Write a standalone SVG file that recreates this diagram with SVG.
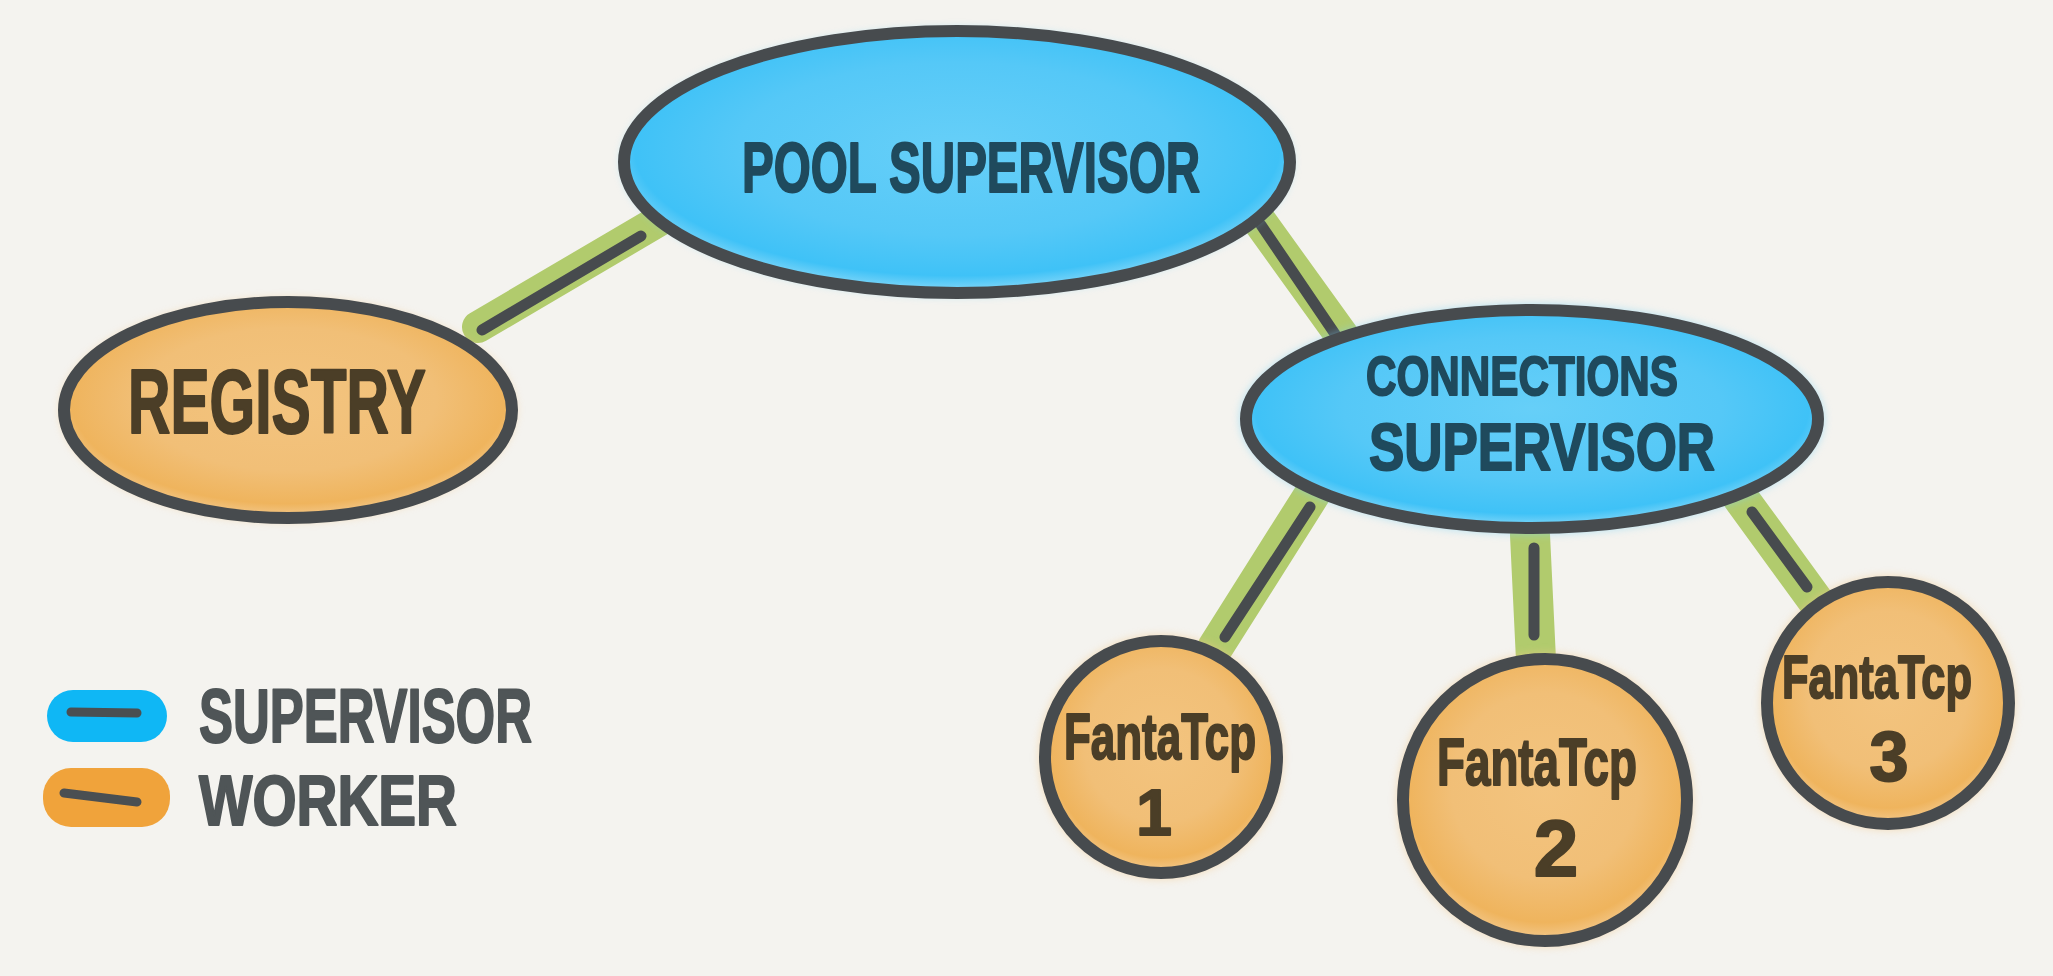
<svg xmlns="http://www.w3.org/2000/svg" width="2053" height="976" viewBox="0 0 2053 976">
  <defs>
    <radialGradient id="gBlue" cx="50%" cy="45%" r="55%">
      <stop offset="0" stop-color="#66cff8"/>
      <stop offset="0.6" stop-color="#55c8f7"/>
      <stop offset="0.88" stop-color="#3fc2f7"/>
      <stop offset="1" stop-color="#8ad9f8"/>
    </radialGradient>
    <radialGradient id="gOrange" cx="50%" cy="45%" r="55%">
      <stop offset="0" stop-color="#f3c47f"/>
      <stop offset="0.6" stop-color="#f1bf77"/>
      <stop offset="0.88" stop-color="#efb45d"/>
      <stop offset="1" stop-color="#f3c98e"/>
    </radialGradient>
    <filter id="bleed" x="-10%" y="-10%" width="120%" height="120%">
      <feGaussianBlur stdDeviation="4"/>
    </filter>
    <style>
      .bg { fill: #f4f3ef; }
      .node { stroke: #474b4e; stroke-width: 12; }
      .sup { fill: url(#gBlue); }
      .wrk { fill: url(#gOrange); }
      .bleedB { fill: #7fd3f5; opacity: 0.55; filter: url(#bleed); }
      .bleedO { fill: #f3c88a; opacity: 0.55; filter: url(#bleed); }
      .green { stroke: #b1cb6d; stroke-linecap: round; fill: none; }
      .dark { stroke: #474b4e; stroke-width: 11; stroke-linecap: round; fill: none; }
      text { font-family: "Liberation Sans", "DejaVu Sans", sans-serif; font-weight: bold; stroke-linejoin: round; }
      .tb { fill: #1f4a5d; stroke: #1f4a5d; stroke-width: 2; }
      .to { fill: #4b3e27; stroke: #4b3e27; stroke-width: 2; }
      .tl { fill: #4f5557; stroke: #4f5557; stroke-width: 2; }
    </style>
  </defs>

  <rect class="bg" x="0" y="0" width="2053" height="976"/>

  <g id="connectors">
    <line class="green" stroke-width="32" x1="478" y1="327" x2="660" y2="220"/>
    <line class="dark" x1="482" y1="330" x2="641" y2="236"/>

    <line class="green" stroke-width="34" x1="1255" y1="215" x2="1345" y2="340"/>
    <line class="dark" x1="1261" y1="225" x2="1335" y2="334"/>

    <line class="green" stroke-width="36" x1="1318" y1="485" x2="1215" y2="648"/>
    <line class="dark" x1="1310" y1="507" x2="1225" y2="637"/>

    <line class="green" stroke-width="40" x1="1530" y1="535" x2="1536" y2="660"/>
    <line class="dark" x1="1534" y1="548" x2="1534" y2="635"/>

    <line class="green" stroke-width="36" x1="1740" y1="497" x2="1815" y2="600"/>
    <line class="dark" x1="1752" y1="512" x2="1807" y2="587"/>
  </g>

  <g id="pool-supervisor">
    <ellipse class="bleedB" cx="957" cy="162" rx="336" ry="134"/>
    <ellipse class="node sup" cx="957" cy="162" rx="333" ry="131"/>
    <text class="tb" x="742" y="192" font-size="70" textLength="458" lengthAdjust="spacingAndGlyphs">POOL SUPERVISOR</text>
  </g>

  <g id="registry">
    <ellipse class="bleedO" cx="288" cy="410" rx="228" ry="112"/>
    <ellipse class="node wrk" cx="288" cy="410" rx="224" ry="108"/>
    <text class="to" x="128" y="433" font-size="90" textLength="298" lengthAdjust="spacingAndGlyphs">REGISTRY</text>
  </g>

  <g id="connections-supervisor">
    <ellipse class="bleedB" cx="1532" cy="419" rx="292" ry="115"/>
    <ellipse class="node sup" cx="1532" cy="419" rx="286" ry="109"/>
    <text class="tb" x="1366" y="395" font-size="56" textLength="312" lengthAdjust="spacingAndGlyphs">CONNECTIONS</text>
    <text class="tb" x="1369" y="470" font-size="66" textLength="346" lengthAdjust="spacingAndGlyphs">SUPERVISOR</text>
  </g>

  <g id="fantatcp-1">
    <ellipse class="bleedO" cx="1161" cy="757" rx="122" ry="122"/>
    <ellipse class="node wrk" cx="1161" cy="757" rx="116" ry="116"/>
    <text class="to" x="1064" y="759" font-size="64" textLength="192" lengthAdjust="spacingAndGlyphs">FantaTcp</text>
    <text class="to" x="1154" y="835" font-size="64" text-anchor="middle">1</text>
  </g>

  <g id="fantatcp-2">
    <ellipse class="bleedO" cx="1545" cy="800" rx="148" ry="147"/>
    <ellipse class="node wrk" cx="1545" cy="800" rx="142" ry="141"/>
    <text class="to" x="1437" y="785" font-size="66" textLength="200" lengthAdjust="spacingAndGlyphs">FantaTcp</text>
    <text class="to" x="1556" y="876" font-size="80" text-anchor="middle">2</text>
  </g>

  <g id="fantatcp-3">
    <ellipse class="bleedO" cx="1888" cy="703" rx="127" ry="127"/>
    <ellipse class="node wrk" cx="1888" cy="703" rx="121" ry="121"/>
    <text class="to" x="1782" y="698" font-size="62" textLength="190" lengthAdjust="spacingAndGlyphs">FantaTcp</text>
    <text class="to" x="1889" y="781" font-size="70" text-anchor="middle">3</text>
  </g>

  <g id="legend">
    <rect x="47" y="690" width="120" height="52" rx="26" fill="#0fb7f5"/>
    <line x1="71" y1="712" x2="137" y2="713" stroke="#4a4f52" stroke-width="9" stroke-linecap="round"/>
    <rect x="43" y="768" width="127" height="59" rx="28" fill="#f0a33b"/>
    <line x1="64" y1="793" x2="137" y2="802" stroke="#4a4f52" stroke-width="9" stroke-linecap="round"/>
    <text class="tl" x="199" y="742" font-size="76" textLength="333" lengthAdjust="spacingAndGlyphs">SUPERVISOR</text>
    <text class="tl" x="199" y="825" font-size="70" textLength="258" lengthAdjust="spacingAndGlyphs">WORKER</text>
  </g>
</svg>
